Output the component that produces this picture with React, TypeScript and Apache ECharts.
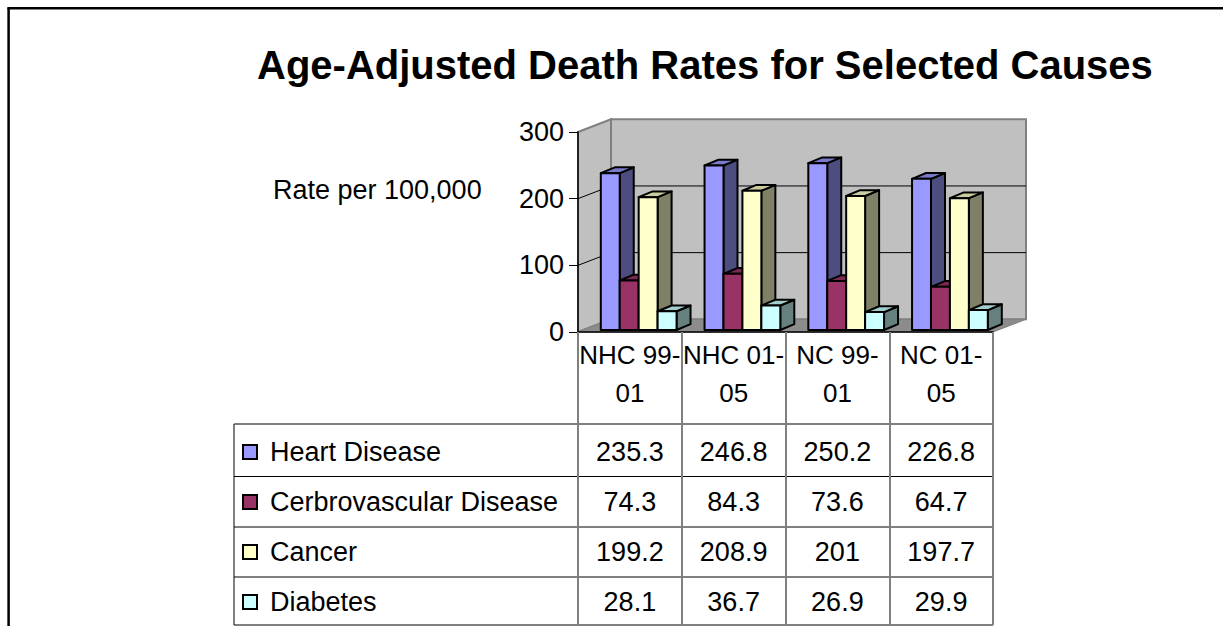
import React, { useEffect, useRef } from "react";
import * as echarts from "echarts";

// ---------- data ----------
const categories = ["NHC 99-01", "NHC 01-05", "NC 99-01", "NC 01-05"];
const seriesNames = ["Heart Disease", "Cerbrovascular Disease", "Cancer", "Diabetes"];
const heartDisease = [235.3, 246.8, 250.2, 226.8];
const cerebrovascular = [74.3, 84.3, 73.6, 64.7];
const cancer = [199.2, 208.9, 201, 197.7];
const diabetes = [28.1, 36.7, 26.9, 29.9];
const seriesValues = [heartDisease, cerebrovascular, cancer, diabetes];
const seriesColors = ["#9999FF", "#993366", "#FFFFCC", "#CCFFFF"];
const yTicks = [0, 100, 200, 300];

// ---------- styles ----------
const FONT = "'Liberation Sans', Arial, Helvetica, sans-serif";
const WALL_DX = 33;
const WALL_DY = -12.7;
const FRONT_DX = 8.8;
const FRONT_DY = -2;
const BAR_DX = 14;
const BAR_DY = -5.8;
const GROUP_RATIO = 0.73;
const ROW_OFFSETS = [120, 170, 220, 270];

function shade(hex: string, f: number): string {
  const n = parseInt(hex.slice(1), 16);
  const r = Math.round(((n >> 16) & 255) * f);
  const g = Math.round(((n >> 8) & 255) * f);
  const b = Math.round((n & 255) * f);
  return `rgb(${r},${g},${b})`;
}

function buildOption(): any {
  const frameSeries = {
    type: "custom",
    name: "frame",
    z: 1,
    silent: true,
    clip: false,
    data: [[0, 0]],
    renderItem: (params: any, api: any) => {
      const cs = params.coordSys;
      const x0 = cs.x, y0 = cs.y, w = cs.width, h = cs.height;
      const children: any[] = [];
      children.push({
        type: "rect",
        shape: { x: x0 + WALL_DX, y: y0 + WALL_DY, width: w, height: h },
        style: { fill: "#C0C0C0", stroke: "#808080", lineWidth: 2 },
      });
      children.push({
        type: "polygon",
        shape: {
          points: [
            [x0, y0],
            [x0 + WALL_DX, y0 + WALL_DY],
            [x0 + WALL_DX, y0 + h + WALL_DY],
            [x0, y0 + h],
          ],
        },
        style: { fill: "#C0C0C0", stroke: "#808080", lineWidth: 2 },
      });
      children.push({
        type: "polygon",
        shape: {
          points: [
            [x0, y0 + h],
            [x0 + WALL_DX, y0 + h + WALL_DY],
            [x0 + w + WALL_DX, y0 + h + WALL_DY],
            [x0 + w, y0 + h],
          ],
        },
        style: { fill: "#8C8C8C", stroke: "#808080", lineWidth: 1 },
      });
      yTicks
        .filter((v) => v > yTicks[0] && v < yTicks[yTicks.length - 1])
        .forEach((v) => {
          const y = api.coord([0, v])[1];
          children.push({
            type: "polyline",
            shape: {
              points: [
                [x0, y],
                [x0 + WALL_DX, y + WALL_DY],
                [x0 + w + WALL_DX, y + WALL_DY],
              ],
            },
            style: { fill: "none", stroke: "#000", lineWidth: 1 },
          });
        });
      return { type: "group", children };
    },
  };

  const barSeries = seriesValues.map((vals, k) => {
    const color = seriesColors[k];
    const side = shade(color, 0.5);
    const topC = shade(color, 0.8);
    return {
      type: "custom",
      name: seriesNames[k],
      z: 2 + k,
      clip: false,
      itemStyle: { color },
      data: vals.map((v, i) => [i, v]),
      renderItem: (params: any, api: any) => {
        const cat = api.value(0);
        const v = api.value(1);
        const top = api.coord([cat, v]);
        const base = api.coord([cat, 0]);
        const band = (api.size([1, 0]) as number[])[0];
        const bw = (band * GROUP_RATIO) / 4;
        const xl = base[0] - bw * 2 + k * bw + FRONT_DX;
        const yt = top[1] + FRONT_DY;
        const yb = base[1] + FRONT_DY;
        const cs = params.coordSys;
        const st = { stroke: "#000", lineWidth: 2, lineJoin: "round" };
        return {
          type: "group",
          children: [
            {
              type: "polygon",
              shape: {
                points: [
                  [xl + bw, yt],
                  [xl + bw + BAR_DX, yt + BAR_DY],
                  [xl + bw + BAR_DX, yb + BAR_DY],
                  [xl + bw, yb],
                ],
              },
              style: { fill: side, ...st },
            },
            {
              type: "polygon",
              shape: {
                points: [
                  [xl, yt],
                  [xl + BAR_DX, yt + BAR_DY],
                  [xl + bw + BAR_DX, yt + BAR_DY],
                  [xl + bw, yt],
                ],
              },
              style: { fill: topC, ...st },
            },
            {
              type: "rect",
              shape: { x: xl, y: yt, width: bw, height: yb - yt },
              style: { fill: color, ...st },
            },
            {
              type: "text",
              x: base[0],
              y: cs.y + cs.height + ROW_OFFSETS[k],
              style: {
                text: String(vals[params.dataIndex]),
                fill: "#000",
                fontSize: 27,
                fontFamily: FONT,
                align: "center",
                verticalAlign: "middle",
                textAlign: "center",
                textVerticalAlign: "middle",
              },
            },
          ],
        };
      },
    };
  });

  const tableRowsY = [424, 476.5, 527, 577, 625];
  const graphic: any[] = [
    { type: "line", shape: { x1: 7.5, y1: 8.3, x2: 1223, y2: 8.3 }, style: { stroke: "#000", lineWidth: 2.5 } },
    { type: "line", shape: { x1: 8.6, y1: 7.5, x2: 8.6, y2: 626 }, style: { stroke: "#000", lineWidth: 2.5 } },
    { type: "line", shape: { x1: 234, y1: 424, x2: 234, y2: 625 }, style: { stroke: "#808080", lineWidth: 2 } },
    ...tableRowsY.map((y) => ({
      type: "line",
      shape: { x1: 234, y1: y, x2: 993, y2: y },
      style: { stroke: "#000", lineWidth: 1 },
    })),
  ];

  return {
    animation: false,
    backgroundColor: "#fff",
    title: [
      {
        text: "Age-Adjusted Death Rates for Selected Causes",
        left: 257,
        top: 45,
        padding: 0,
        textStyle: { fontSize: 40, fontWeight: "bold", fontFamily: FONT, color: "#000" },
      },
      {
        text: "Rate per 100,000",
        left: 273,
        top: 176,
        padding: 0,
        textStyle: { fontSize: 27, fontWeight: "normal", fontFamily: FONT, color: "#000" },
      },
    ],
    legend: {
      orient: "vertical",
      left: 242,
      top: 438.5,
      padding: 0,
      itemGap: 23,
      itemWidth: 14,
      itemHeight: 14,
      icon: "rect",
      selectedMode: false,
      itemStyle: { borderColor: "#000", borderWidth: 2 },
      textStyle: { fontSize: 27, fontFamily: FONT, color: "#000", lineHeight: 27, padding: [0, 0, 0, 8] },
      data: seriesNames,
    },
    grid: { left: 578, top: 132, width: 415, height: 200, containLabel: false },
    xAxis: {
      type: "category",
      data: categories,
      z: 10,
      axisLine: { show: true, lineStyle: { color: "#000", width: 1.5 } },
      axisTick: { show: true, length: 293, interval: 0, lineStyle: { color: "#808080", width: 2 } },
      axisLabel: {
        interval: 0,
        fontSize: 26,
        fontFamily: FONT,
        color: "#000",
        lineHeight: 38,
        margin: 4,
        formatter: (s: string) => s.replace("-", "-\n"),
      },
      splitLine: { show: false },
    },
    yAxis: {
      type: "value",
      min: yTicks[0],
      max: yTicks[yTicks.length - 1],
      interval: 100,
      z: 10,
      axisLine: { show: true, lineStyle: { color: "#000", width: 1.5 } },
      axisTick: { show: true, length: 9, lineStyle: { color: "#000", width: 1 } },
      axisLabel: { fontSize: 27, fontFamily: FONT, color: "#000", margin: 14 },
      splitLine: { show: false },
    },
    graphic,
    series: [frameSeries, ...barSeries],
  };
}

export default function App() {
  const ref = useRef<HTMLDivElement>(null);
  useEffect(() => {
    if (!ref.current) return;
    const chart = echarts.init(ref.current, null, { renderer: "svg" });
    chart.setOption(buildOption());
    return () => chart.dispose();
  }, []);
  return (
    <div
      ref={ref}
      style={{ position: "fixed", left: 0, top: 0, width: 1223, height: 626, background: "#fff" }}
    />
  );
}
